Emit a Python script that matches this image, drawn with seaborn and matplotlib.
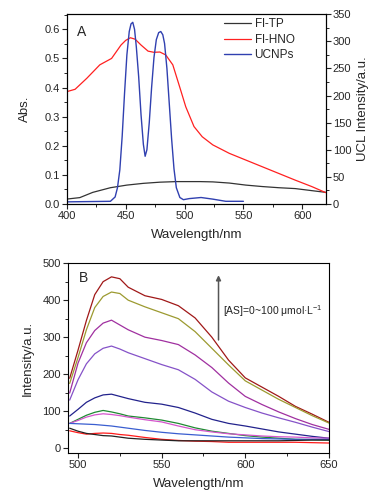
import matplotlib
matplotlib.use("Agg")
import matplotlib.pyplot as plt
from matplotlib.ticker import MultipleLocator
import seaborn as sns
import pandas as pd

sns.set_style("ticks")
plt.rcParams['font.family'] = ['Liberation Sans', 'DejaVu Sans']
plt.rcParams['mathtext.fontset'] = 'custom'
plt.rcParams['mathtext.rm'] = 'Liberation Sans'
plt.rcParams['axes.edgecolor'] = 'black'
plt.rcParams['axes.linewidth'] = 0.8

# ---- panel A: absorption + UCL emission
tp_x = [400, 411, 422, 437, 451, 465, 479, 493, 513, 524, 538, 552, 566, 580, 594, 608, 620]
tp_y = [0.017, 0.022, 0.040, 0.056, 0.065, 0.071, 0.075, 0.077, 0.077, 0.076, 0.072,
        0.065, 0.060, 0.056, 0.053, 0.046, 0.040]

hno_x = [400, 407, 417, 428, 438, 446, 450, 454, 458, 463, 469, 474, 479, 484, 490,
         496, 501, 508, 515, 524, 538, 552, 566, 580, 594, 608, 620]
hno_y = [0.386, 0.394, 0.432, 0.478, 0.500, 0.546, 0.562, 0.571, 0.566, 0.546, 0.525,
         0.521, 0.522, 0.512, 0.478, 0.400, 0.334, 0.266, 0.231, 0.203, 0.174, 0.151,
         0.128, 0.105, 0.082, 0.060, 0.039]

uc_x = [400, 437, 441, 443, 445, 447, 449, 451, 453, 454.5, 456, 457.5, 459, 461, 463,
        465, 466.5, 468, 470, 472, 474, 476, 478, 479.8, 481.5, 483, 485, 487, 489,
        491, 493, 496, 499, 504, 514, 524, 535, 550]
uc_y = [4, 5, 13, 30, 63, 125, 204, 275, 318, 332, 335, 322, 290, 235, 165,
        110, 88, 100, 150, 215, 270, 303, 316, 318, 312, 296, 250, 185, 120,
        65, 30, 12, 8, 10, 12, 9, 5, 5]

# ---- panel B: fluorescence titration
wl = [495, 500, 505, 510, 515, 520, 525, 530, 540, 550, 560, 570, 580, 590, 600, 610,
      620, 630, 640, 650]
curves = {
    "c10": [189, 265, 345, 415, 450, 463, 458, 435, 412, 402, 385, 352, 300, 238, 190,
            165, 140, 113, 92, 70],
    "c9": [175, 245, 320, 380, 410, 422, 418, 400, 382, 366, 350, 315, 270, 225, 182,
           157, 132, 110, 88, 68],
    "c8": [149, 230, 285, 318, 338, 346, 333, 320, 300, 291, 280, 252, 218, 176, 140,
           118, 98, 80, 64, 51],
    "c7": [130, 185, 228, 255, 270, 276, 268, 258, 242, 226, 212, 186, 152, 127, 110,
           95, 82, 70, 57, 45],
    "c6": [87, 105, 124, 136, 144, 146, 140, 134, 124, 119, 110, 95, 78, 67, 60, 52,
           44, 38, 32, 27],
    "c5": [67, 78, 89, 97, 102, 98, 93, 87, 82, 76, 67, 55, 46, 40, 34, 30, 27, 24,
           23, 22],
    "c4": [67, 75, 84, 90, 93, 91, 88, 84, 77, 71, 60, 50, 44, 39, 36, 33, 31, 30,
           28, 27],
    "c3": [67, 66, 65, 64, 62, 60, 57, 54, 48, 43, 39, 36, 33, 30, 28, 26, 25, 24,
           24, 24],
    "c2": [47, 42, 38, 40, 41, 40, 37, 35, 29, 24, 21, 19, 18, 16, 16, 16, 16, 16,
           15, 14],
    "c1": [54, 46, 40, 37, 34, 33, 30, 27, 24, 22, 20, 20, 20, 20, 20, 20, 20, 21,
           22, 22],
}
curve_colors = ["#a01818", "#9c9a30", "#a030a0", "#8552c8", "#22228c", "#1f8a32",
                "#d455cc", "#3a5ed0", "#ff1a1a", "#222222"]

fig = plt.figure(figsize=(3.82, 4.97), dpi=100)
ax = fig.add_axes([0.175, 0.5895, 0.678, 0.382])
ax2 = ax.twinx()

sns.lineplot(x=tp_x, y=tp_y, ax=ax, color="#333333", lw=0.9, label="Fl-TP")
sns.lineplot(x=hno_x, y=hno_y, ax=ax, color="#ff2020", lw=0.9, label="Fl-HNO")
sns.lineplot(x=uc_x, y=uc_y, ax=ax2, color="#3040b0", lw=1.0, label="UCNPs")

h1, l1 = ax.get_legend_handles_labels()
h2, l2 = ax2.get_legend_handles_labels()
ax.get_legend().remove()
ax2.get_legend().remove()
ax.legend(h1 + h2, l1 + l2, loc="upper left", bbox_to_anchor=(0.565, 1.035),
          frameon=False, fontsize=8.5, handlelength=2.3, handletextpad=0.3,
          labelspacing=0.3)

ax.set_xlim(400, 620)
ax.set_ylim(0, 0.652)
ax2.set_ylim(0, 350)
ax.xaxis.set_major_locator(MultipleLocator(50))
ax.xaxis.set_minor_locator(MultipleLocator(25))
ax.yaxis.set_major_locator(MultipleLocator(0.1))
ax.yaxis.set_minor_locator(MultipleLocator(0.05))
ax2.yaxis.set_major_locator(MultipleLocator(50))
ax2.yaxis.set_minor_locator(MultipleLocator(25))
ax.set_xlabel("Wavelength/nm", fontsize=9.5, labelpad=6)
ax.set_ylabel("Abs.", fontsize=9.5, labelpad=10)
ax2.set_ylabel("UCL Intensity/a.u.", fontsize=9.5, labelpad=4)
ax.text(0.04, 0.905, "A", transform=ax.transAxes, fontsize=10, va="center")

# panel B
bx = fig.add_axes([0.178, 0.0885, 0.683, 0.382])
names = list(curves.keys())
df = pd.DataFrame({
    "wl": wl * len(names),
    "I": [v for n in names for v in curves[n]],
    "conc": [n for n in names for _ in wl],
})
sns.lineplot(data=df, x="wl", y="I", hue="conc", hue_order=names,
             palette=curve_colors, ax=bx, lw=0.9, legend=False)
bx.set_xlim(494, 650)
bx.set_ylim(-13, 500)
bx.xaxis.set_major_locator(MultipleLocator(50))
bx.xaxis.set_minor_locator(MultipleLocator(25))
bx.yaxis.set_major_locator(MultipleLocator(100))
bx.yaxis.set_minor_locator(MultipleLocator(50))
bx.set_xlabel("Wavelength/nm", fontsize=9.5, labelpad=6)
bx.set_ylabel("Intensity/a.u.", fontsize=9.5, labelpad=6)
bx.text(0.042, 0.92, "B", transform=bx.transAxes, fontsize=10, va="center")
bx.annotate("", xy=(584, 475), xytext=(584, 285),
            arrowprops=dict(arrowstyle="-|>", color="#555555", lw=1.1,
                            mutation_scale=7))
bx.text(586.5, 370, r"[AS]=0~100 μmol·L$^{-1}$", fontsize=7.5, va="center",
        color="#222222")

for a in (ax, ax2, bx):
    a.tick_params(which="major", direction="out", length=3.5, width=0.8,
                  labelsize=8, pad=1.5, color="#222222")
    a.tick_params(which="minor", direction="out", length=2, width=0.7)
    for s in a.spines.values():
        s.set_visible(True)
        s.set_linewidth(0.8)

fig.savefig("out.png", dpi=100)
